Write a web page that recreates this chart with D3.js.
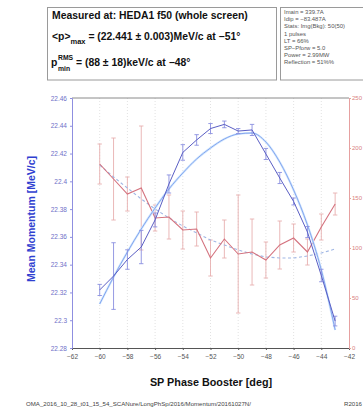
<!DOCTYPE html>
<html>
<head>
<meta charset="utf-8">
<script src="https://cdn.jsdelivr.net/npm/d3@7"></script>
<style>
  html, body { margin: 0; padding: 0; background: #fff; }
  svg { display: block; font-family: "Liberation Sans", Arial, Helvetica, sans-serif; }
</style>
</head>
<body>
<svg id="chart" width="363" height="411"></svg>
<script>
// Booster SP phase scan (deg)
const phase = [-60, -59, -58, -57, -56, -55, -54, -53, -52, -51, -50, -49, -48, -47, -46, -45, -44, -43];

// Mean momentum (MeV/c) with error, and fitted curve
const meanMomentum    = [22.3218, 22.3318, 22.3437, 22.3527, 22.3722, 22.3981, 22.4208, 22.4298, 22.4380, 22.4410, 22.4362, 22.4370, 22.4197, 22.4024, 22.3855, 22.3635, 22.3322, 22.2994];
const meanMomentumErr = [0.0040, 0.0240, 0.0070, 0.0120, 0.0050, 0.0065, 0.0056, 0.0038, 0.0036, 0.0024, 0.0018, 0.0040, 0.0040, 0.0040, 0.0025, 0.0040, 0.0045, 0.0035];
const momentumFit     = [22.3117, 22.3311, 22.3491, 22.3657, 22.3808, 22.3945, 22.4060, 22.4161, 22.4240, 22.4305, 22.4341, 22.4348, 22.4283, 22.4139, 22.3938, 22.3686, 22.3362, 22.2930];

// RMS momentum spread (keV/c) with error, and fitted curve
const rmsSpread    = [184, 169, 154, 160, 130, 131, 118, 119, 90, 109, 94, 96, 88, 103, 110, 96, 121, 144];
const rmsSpreadErr = [20, 41, 17, 62, 13, 22, 19, 17, 18, 19, 59, 33, 18, 24, 14, 13, 13, 11];
const rmsFit       = [183, 171, 160, 149, 139, 130, 122, 115, 108, 103, 98, 94, 91, 90, 90, 92, 95, 99];

// Axis ticks
const phaseTicks    = [-62, -60, -58, -56, -54, -52, -50, -48, -46, -44, -42];
const momentumTicks = [22.28, 22.3, 22.32, 22.34, 22.36, 22.38, 22.4, 22.42, 22.44, 22.46];
const rmsTicks      = [0, 50, 100, 150, 200, 250];

// Header texts
const titleLine = "Measured at: HEDA1 f50 (whole screen)";
const infoLines = [
  "Imain = 339.7A",
  "Idip = \u221283.487A",
  "Stats: Img(Bkg): 50(50)",
  "1 pulses",
  "LT = 66%",
  "SP\u2212Pforw = 5.0",
  "Power = 2.99MW",
  "Reflection = 51%%"
];
const footer = "OMA_2016_10_28_t01_15_54_SCANure/LongPhSp/2016/Momentum/20161027N/";

const svg = d3.select("#chart");
const P = { left: 72, right: 349, top: 98, bottom: 348 };

const x  = d3.scaleLinear().domain([-62, -42]).range([P.left, P.right]);
const y  = d3.scaleLinear().domain([22.28, 22.46]).range([P.bottom, P.top]);
const yR = d3.scaleLinear().domain([0, 250]).range([P.bottom, P.top]);

const minus = s => String(s).replace("-", "\u2212");

// ---- header boxes ----
svg.append("rect").attr("x", 47.5).attr("y", 7.5).attr("width", 229).attr("height", 72.5)
  .attr("fill", "#fff").attr("stroke", "#9a9a9a").attr("stroke-width", 1);
svg.append("rect").attr("x", 280.5).attr("y", 7.5).attr("width", 90).attr("height", 72.5)
  .attr("fill", "#fff").attr("stroke", "#9a9a9a").attr("stroke-width", 1);

svg.append("text").attr("x", 52).attr("y", 19).attr("font-size", 10.4).attr("font-weight", "bold")
  .attr("fill", "#111").text(titleLine);

const l2 = svg.append("text").attr("x", 52).attr("y", 40).attr("font-size", 10.4)
  .attr("font-weight", "bold").attr("fill", "#111");
l2.append("tspan").text("<p>");
l2.append("tspan").attr("dy", 4).attr("font-size", 7.5).text("max");
l2.append("tspan").attr("dy", -4).text(" = (22.441 \u00b1 0.003)MeV/c at \u221251\u00b0");

const l3 = svg.append("text").attr("x", 51).attr("y", 66).attr("font-size", 10.4)
  .attr("font-weight", "bold").attr("fill", "#111");
l3.append("tspan").text("p");
l3.append("tspan").attr("x", 58).attr("dy", -6).attr("font-size", 6.8).text("RMS");
l3.append("tspan").attr("x", 58).attr("dy", 11).attr("font-size", 6.8).text("min");
l3.append("tspan").attr("x", 76).attr("dy", -5).text("= (88 \u00b1 18)keV/c at \u221248\u00b0");

svg.append("g").selectAll("text").data(infoLines).join("text")
  .attr("x", 284).attr("y", (d, i) => 14 + i * 7.2)
  .attr("font-size", 5.9).attr("fill", "#555").text(d => d);

// ---- plot frame and grid ----
svg.append("g").selectAll("line").data(phaseTicks.slice(1, -1)).join("line")
  .attr("x1", d => x(d)).attr("x2", d => x(d)).attr("y1", P.top).attr("y2", P.bottom)
  .attr("stroke", "#dadada").attr("stroke-width", 0.8).attr("stroke-dasharray", "1,2");

svg.append("line").attr("x1", P.left).attr("x2", P.right).attr("y1", P.top).attr("y2", P.top)
  .attr("stroke", "#8a8a8a").attr("stroke-width", 1);

// bottom axis
const xAxis = svg.append("g").attr("transform", `translate(0,${P.bottom})`)
  .call(d3.axisBottom(x).tickValues(phaseTicks).tickSize(2).tickFormat(minus));
xAxis.select(".domain").attr("stroke", "#555");
xAxis.selectAll(".tick line").attr("stroke", "#555");
xAxis.selectAll("text").attr("font-size", 6.5).attr("fill", "#555").attr("font-family", null).attr("dy", "0.9em");

// left axis (momentum)
const yAxis = svg.append("g").attr("transform", `translate(${P.left},0)`)
  .call(d3.axisLeft(y).tickValues(momentumTicks).tickSize(2)
    .tickFormat(d => d3.format(".2f")(d).replace(/0$/, "")));
yAxis.select(".domain").attr("stroke", "#8f8fe0");
yAxis.selectAll(".tick line").attr("stroke", "#8f8fe0");
yAxis.selectAll("text").attr("font-size", 6.5).attr("fill", "#6f6fc8").attr("font-family", null);

// right axis (rms spread)
const rAxis = svg.append("g").attr("transform", `translate(${P.right},0)`)
  .call(d3.axisRight(yR).tickValues(rmsTicks).tickSize(2).tickPadding(1));
rAxis.select(".domain").attr("stroke", "#e6a0a0");
rAxis.selectAll(".tick line").attr("stroke", "#e6a0a0");
rAxis.selectAll("text").attr("font-size", 6).attr("fill", "#d98080").attr("font-family", null);

// axis titles
svg.append("text").attr("transform", "translate(35,219) rotate(-90)")
  .attr("text-anchor", "middle").attr("font-size", 10.5).attr("font-weight", "bold")
  .attr("fill", "#2f3fd0").text("Mean Momentum [MeV/c]");
svg.append("text").attr("x", 211).attr("y", 386).attr("text-anchor", "middle")
  .attr("font-size", 10.8).attr("font-weight", "bold").attr("fill", "#111")
  .text("SP Phase Booster [deg]");

// footer
svg.append("text").attr("x", 26).attr("y", 406).attr("font-size", 6.1).attr("fill", "#444").text(footer);
svg.append("text").attr("x", 344).attr("y", 406).attr("font-size", 6.1).attr("fill", "#444").text("R2016");

// ---- data ----
const plot = svg.append("g");
const cap = 2.2;

function errorBars(g, vals, errs, scale, color) {
  const rows = phase.map((p, i) => ({ p, v: vals[i], e: errs[i] }));
  const eb = g.append("g").attr("stroke", color).attr("stroke-width", 0.9).attr("fill", "none");
  eb.selectAll("path").data(rows).join("path")
    .attr("d", d => {
      const cx = x(d.p), y1 = scale(d.v + d.e), y2 = scale(d.v - d.e);
      return `M${cx},${y1}V${y2}M${cx - cap},${y1}H${cx + cap}M${cx - cap},${y2}H${cx + cap}`;
    });
}

// RMS spread (right axis)
errorBars(plot, rmsSpread, rmsSpreadErr, yR, "#e8b0b0");
plot.append("path").datum(phase.map((p, i) => [p, rmsFit[i]]))
  .attr("fill", "none").attr("stroke", "#9fb6e4").attr("stroke-width", 1.1).attr("stroke-dasharray", "3,2.5")
  .attr("d", d3.line().x(d => x(d[0])).y(d => yR(d[1])));
plot.append("path").datum(phase.map((p, i) => [p, rmsSpread[i]]))
  .attr("fill", "none").attr("stroke", "#d4727e").attr("stroke-width", 1.1)
  .attr("d", d3.line().x(d => x(d[0])).y(d => yR(d[1])));

// Mean momentum (left axis)
const fitLine = d3.line().curve(d3.curveMonotoneX).x(d => x(d[0])).y(d => y(d[1]));
plot.append("path").datum(phase.map((p, i) => [p, momentumFit[i]]))
  .attr("fill", "none").attr("stroke", "#cfe6ff").attr("stroke-width", 2.2)
  .attr("d", fitLine);
plot.append("path").datum(phase.map((p, i) => [p, momentumFit[i]]))
  .attr("fill", "none").attr("stroke", "#86a6ee").attr("stroke-width", 1)
  .attr("d", fitLine);
errorBars(plot, meanMomentum, meanMomentumErr, y, "#8a8ee0");
plot.append("path").datum(phase.map((p, i) => [p, meanMomentum[i]]))
  .attr("fill", "none").attr("stroke", "#5a5ec4").attr("stroke-width", 1)
  .attr("d", d3.line().x(d => x(d[0])).y(d => y(d[1])));
</script>
</body>
</html>
